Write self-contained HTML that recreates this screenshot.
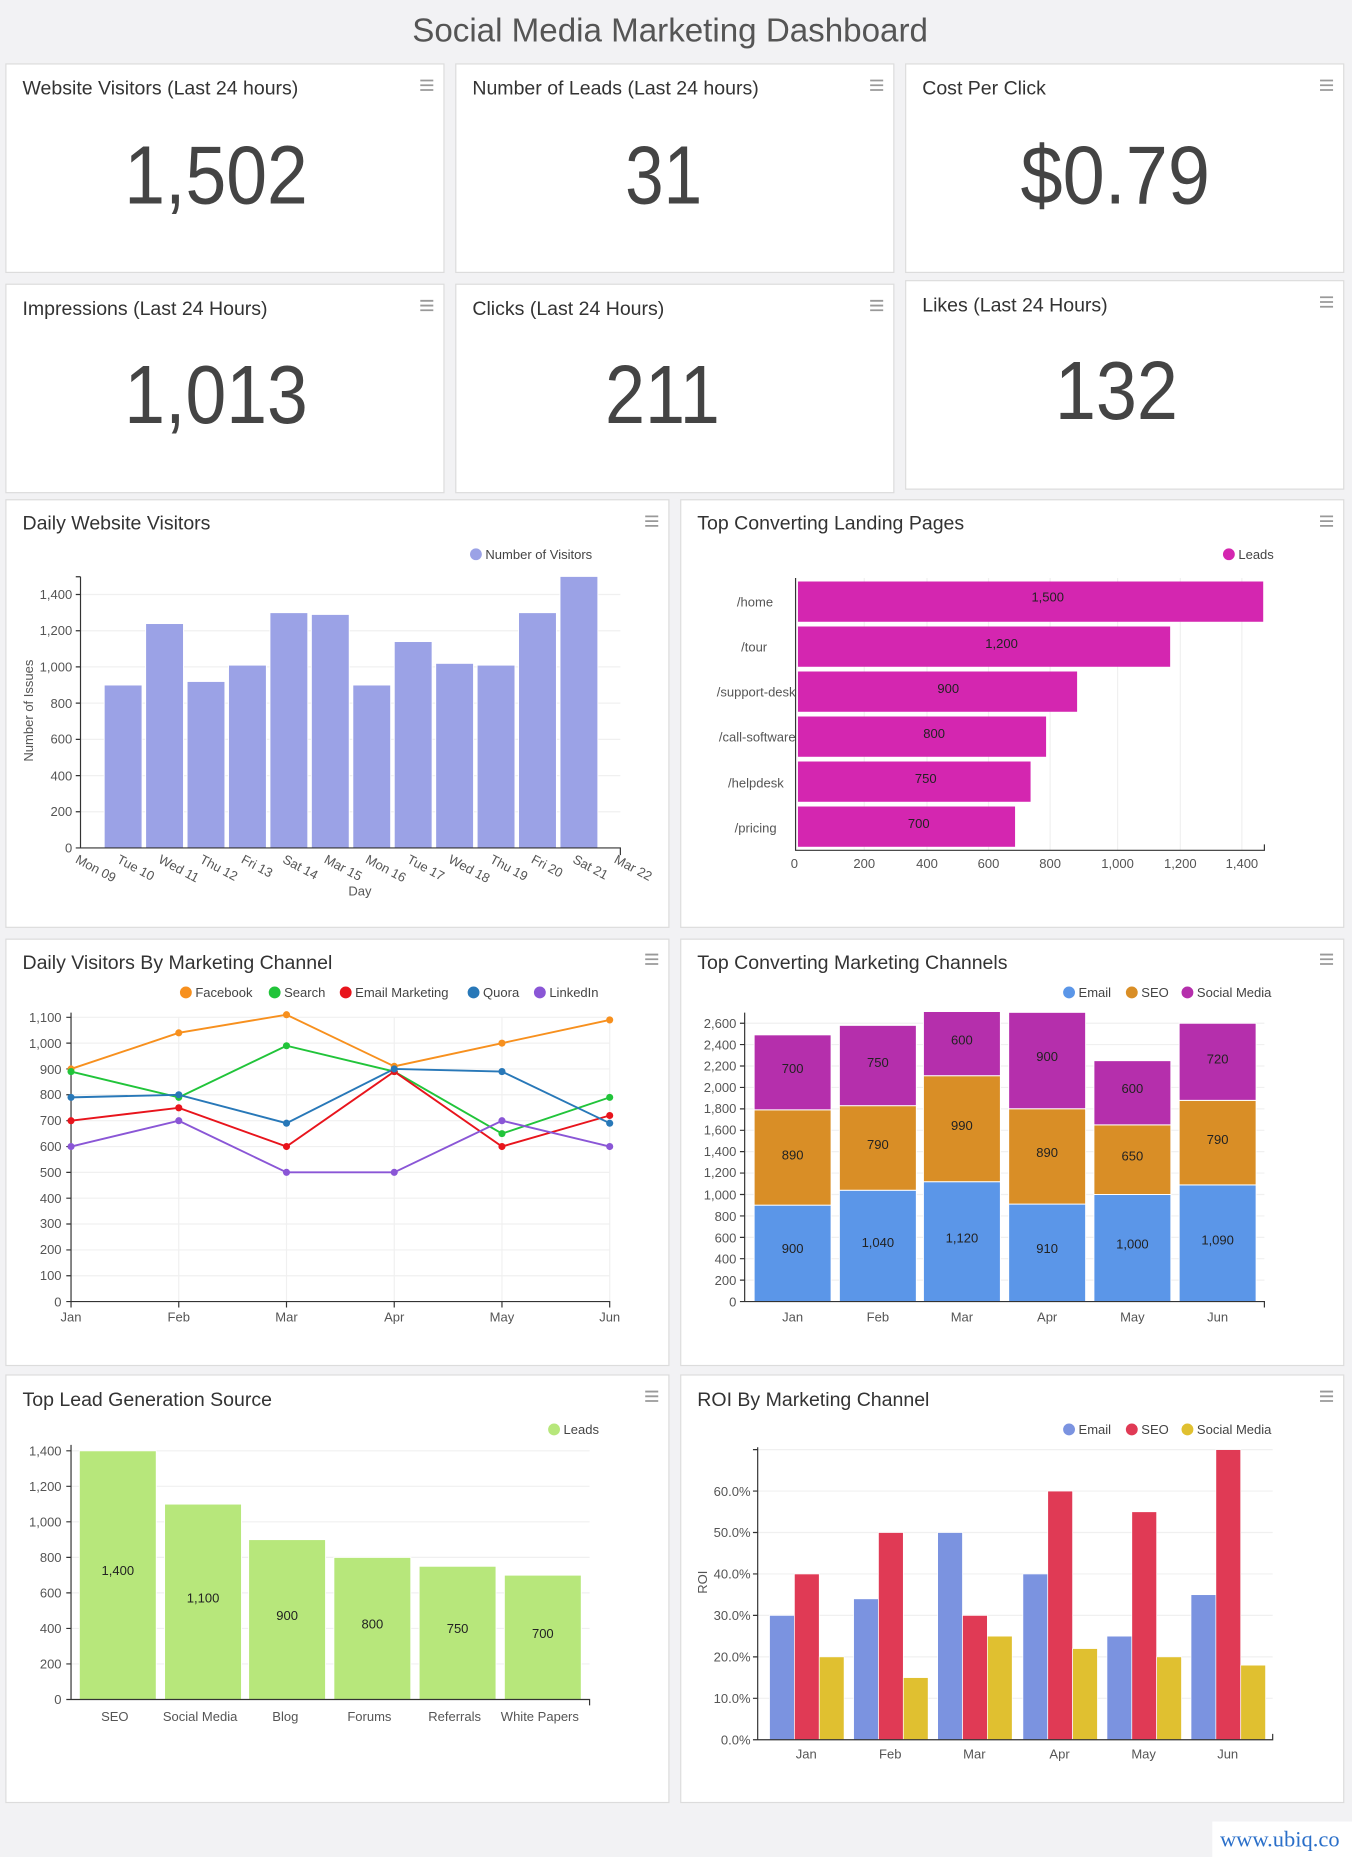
<!DOCTYPE html>
<html><head><meta charset="utf-8"><style>
html,body{margin:0;padding:0;background:#f2f2f4;}
svg{display:block;font-family:"Liberation Sans",sans-serif;}
.ct{font-size:16.5px;fill:#333;}
.big{font-size:70px;fill:#444;}
.t{font-size:11px;fill:#555;}
.lg{font-size:11px;fill:#444;}
.in{font-size:11px;fill:#222;}
.g{stroke:#f0f0f0;stroke-width:1;}
.ax{stroke:#333;stroke-width:1;fill:none;}
</style></head><body>
<svg width="1352" height="1857" viewBox="0 0 1142 1568" preserveAspectRatio="none">
<rect width="1142" height="1568" fill="#f2f2f4"/>
<text x="566" y="35" text-anchor="middle" font-size="28" fill="#555">Social Media Marketing Dashboard</text>
<g fill="#fff" stroke="#dcdcdc">
<rect x="5" y="54" width="370" height="176"/><rect x="385" y="54" width="370" height="176"/><rect x="765" y="54" width="370" height="176"/>
<rect x="5" y="240" width="370" height="176"/><rect x="385" y="240" width="370" height="176"/><rect x="765" y="237" width="370" height="176"/>
<rect x="5" y="422" width="560" height="361"/><rect x="575" y="422" width="560" height="361"/>
<rect x="5" y="793" width="560" height="360"/><rect x="575" y="793" width="560" height="360"/>
<rect x="5" y="1161" width="560" height="361"/><rect x="575" y="1161" width="560" height="361"/>
</g>
<g stroke="#999" stroke-width="1.5">
<path d="M355 68h11M355 72h11M355 76h11M735 68h11M735 72h11M735 76h11M1115 68h11M1115 72h11M1115 76h11"/>
<path d="M355 254h11M355 258h11M355 262h11M735 254h11M735 258h11M735 262h11M1115 251h11M1115 255h11M1115 259h11"/>
<path d="M545 436h11M545 440h11M545 444h11M1115 436h11M1115 440h11M1115 444h11"/>
<path d="M545 806h11M545 810h11M545 814h11M1115 806h11M1115 810h11M1115 814h11"/>
<path d="M545 1175h11M545 1179h11M545 1183h11M1115 1175h11M1115 1179h11M1115 1183h11"/>
</g>
<text class="ct" x="19" y="80">Website Visitors (Last 24 hours)</text>
<text class="ct" x="399" y="80">Number of Leads (Last 24 hours)</text>
<text class="ct" x="779" y="80">Cost Per Click</text>
<text class="ct" x="19" y="266">Impressions (Last 24 Hours)</text>
<text class="ct" x="399" y="266">Clicks (Last 24 Hours)</text>
<text class="ct" x="779" y="263">Likes (Last 24 Hours)</text>
<text class="big" x="105" y="172" textLength="155" lengthAdjust="spacingAndGlyphs">1,502</text>
<text class="big" x="528" y="172" textLength="65" lengthAdjust="spacingAndGlyphs">31</text>
<text class="big" x="862" y="172" textLength="160" lengthAdjust="spacingAndGlyphs">$0.79</text>
<text class="big" x="105" y="357" textLength="155" lengthAdjust="spacingAndGlyphs">1,013</text>
<text class="big" x="511" y="357" textLength="97" lengthAdjust="spacingAndGlyphs">211</text>
<text class="big" x="891" y="354" textLength="104" lengthAdjust="spacingAndGlyphs">132</text>

<text class="ct" x="19" y="447">Daily Website Visitors</text>
<text class="ct" x="589" y="447">Top Converting Landing Pages</text>
<text class="ct" x="19" y="818">Daily Visitors By Marketing Channel</text>
<text class="ct" x="589" y="818">Top Converting Marketing Channels</text>
<text class="ct" x="19" y="1187">Top Lead Generation Source</text>
<text class="ct" x="589" y="1187">ROI By Marketing Channel</text>

<!-- Chart 1 -->
<circle cx="402" cy="468" r="5" fill="#9ba2e6"/><text class="lg" x="410" y="472">Number of Visitors</text>
<g class="g"><path d="M68 685.4H524M68 654.9H524M68 624.3H524M68 593.7H524M68 563.1H524M68 532.6H524M68 502H524"/></g>
<g fill="#9ba2e6" stroke="#fff" stroke-width="0.8">
<rect x="88" y="578.4" width="32" height="137.6"/><rect x="123" y="526.5" width="32" height="189.5"/><rect x="158" y="575.4" width="32" height="140.6"/><rect x="193" y="561.6" width="32" height="154.4"/><rect x="228" y="517.3" width="32" height="198.7"/><rect x="263" y="518.8" width="32" height="197.2"/><rect x="298" y="578.4" width="32" height="137.6"/><rect x="333" y="541.7" width="32" height="174.3"/><rect x="368" y="560.1" width="32" height="155.9"/><rect x="403" y="561.6" width="32" height="154.4"/><rect x="438" y="517.3" width="32" height="198.7"/><rect x="473" y="486.7" width="32" height="229.3"/>
</g>
<path class="ax" d="M68 487V716H524v6M64 716h4M64 502h4M64 532.6h4M64 563.1h4M64 593.7h4M64 624.3h4M64 654.9h4M64 685.4h4M64 487h4"/>
<g class="t" text-anchor="end"><text x="61" y="720">0</text><text x="61" y="689">200</text><text x="61" y="659">400</text><text x="61" y="628">600</text><text x="61" y="598">800</text><text x="61" y="567">1,000</text><text x="61" y="536">1,200</text><text x="61" y="506">1,400</text></g>
<text class="t" transform="translate(28,600) rotate(-90)" text-anchor="middle">Number of Issues</text>
<g class="t">
<text transform="translate(63,728) rotate(28)">Mon 09</text><text transform="translate(98,728) rotate(28)">Tue 10</text><text transform="translate(133,728) rotate(28)">Wed 11</text><text transform="translate(168,728) rotate(28)">Thu 12</text><text transform="translate(203,728) rotate(28)">Fri 13</text><text transform="translate(238,728) rotate(28)">Sat 14</text><text transform="translate(273,728) rotate(28)">Mar 15</text><text transform="translate(308,728) rotate(28)">Mon 16</text><text transform="translate(343,728) rotate(28)">Tue 17</text><text transform="translate(378,728) rotate(28)">Wed 18</text><text transform="translate(413,728) rotate(28)">Thu 19</text><text transform="translate(448,728) rotate(28)">Fri 20</text><text transform="translate(483,728) rotate(28)">Sat 21</text><text transform="translate(518,728) rotate(28)">Mar 22</text>
</g>
<text class="t" x="304" y="756" text-anchor="middle">Day</text>

<!-- Chart 2 -->
<circle cx="1038" cy="468" r="5" fill="#d426b0"/><text class="lg" x="1046" y="472">Leads</text>
<g class="g"><path d="M730 488V718M783 488V718M835 488V718M887 488V718M944 488V718M997 488V718M1049 488V718"/></g>
<g fill="#d426b0">
<rect x="674" y="491" width="393" height="34"/><rect x="674" y="529" width="314.4" height="34"/><rect x="674" y="567" width="235.8" height="34"/><rect x="674" y="605" width="209.6" height="34"/><rect x="674" y="643" width="196.5" height="34"/><rect x="674" y="681" width="183.4" height="34"/>
</g>
<g class="in" text-anchor="middle"><text x="885" y="508">1,500</text><text x="846" y="547">1,200</text><text x="801" y="585">900</text><text x="789" y="623">800</text><text x="782" y="661">750</text><text x="776" y="699">700</text></g>
<path class="ax" d="M672 488V718H1068v-5"/>
<g class="t" text-anchor="end"><text x="653" y="512">/home</text><text x="648" y="550">/tour</text><text x="672" y="588">/support-desk</text><text x="672" y="626">/call-software</text><text x="662" y="665">/helpdesk</text><text x="656" y="703">/pricing</text></g>
<g class="t" text-anchor="middle"><text x="671" y="733">0</text><text x="730" y="733">200</text><text x="783" y="733">400</text><text x="835" y="733">600</text><text x="887" y="733">800</text><text x="944" y="733">1,000</text><text x="997" y="733">1,200</text><text x="1049" y="733">1,400</text></g>

<!-- Chart 3 -->
<g class="lg">
<circle cx="157" cy="838" r="5" fill="#f7901e"/><text x="165" y="842">Facebook</text>
<circle cx="232" cy="838" r="5" fill="#21c43a"/><text x="240" y="842">Search</text>
<circle cx="292" cy="838" r="5" fill="#e8141c"/><text x="300" y="842">Email Marketing</text>
<circle cx="400" cy="838" r="5" fill="#2878b8"/><text x="408" y="842">Quora</text>
<circle cx="456" cy="838" r="5" fill="#8a56d6"/><text x="464" y="842">LinkedIn</text>
</g>
<g class="g"><path d="M60 1077.2H515M60 1055.4H515M60 1033.5H515M60 1011.7H515M60 989.9H515M60 968.1H515M60 946.3H515M60 924.4H515M60 902.6H515M60 880.8H515M60 859H515M151 859V1099M242 859V1099M333 859V1099M424 859V1099M515 859V1099"/></g>
<path class="ax" d="M60 855V1099H515v5M60 1099v5M151 1099v5M242 1099v5M333 1099v5M424 1099v5M56 1099h4M56 1077.2h4M56 1055.4h4M56 1033.5h4M56 1011.7h4M56 989.9h4M56 968.1h4M56 946.3h4M56 924.4h4M56 902.6h4M56 880.8h4M56 859h4"/>
<g class="t" text-anchor="end"><text x="52" y="1103">0</text><text x="52" y="1081">100</text><text x="52" y="1059">200</text><text x="52" y="1037">300</text><text x="52" y="1016">400</text><text x="52" y="994">500</text><text x="52" y="972">600</text><text x="52" y="950">700</text><text x="52" y="928">800</text><text x="52" y="907">900</text><text x="52" y="885">1,000</text><text x="52" y="863">1,100</text></g>
<g class="t" text-anchor="middle"><text x="60" y="1116">Jan</text><text x="151" y="1116">Feb</text><text x="242" y="1116">Mar</text><text x="333" y="1116">Apr</text><text x="424" y="1116">May</text><text x="515" y="1116">Jun</text></g>
<g fill="none" stroke-width="1.6">
<polyline stroke="#f7901e" points="60,902.6 151,872.1 242,856.8 333,900.4 424,880.8 515,861.2"/>
<polyline stroke="#21c43a" points="60,904.8 151,926.6 242,883 333,904.8 424,957.2 515,926.6"/>
<polyline stroke="#e8141c" points="60,946.3 151,935.4 242,968.1 333,904.8 424,968.1 515,941.9"/>
<polyline stroke="#2878b8" points="60,926.6 151,924.4 242,948.4 333,902.6 424,904.8 515,948.4"/>
<polyline stroke="#8a56d6" points="60,968.1 151,946.3 242,989.9 333,989.9 424,946.3 515,968.1"/>
</g>
<g fill="#f7901e"><circle cx="60" cy="902.6" r="3"/><circle cx="151" cy="872.1" r="3"/><circle cx="242" cy="856.8" r="3"/><circle cx="333" cy="900.4" r="3"/><circle cx="424" cy="880.8" r="3"/><circle cx="515" cy="861.2" r="3"/></g>
<g fill="#21c43a"><circle cx="60" cy="904.8" r="3"/><circle cx="151" cy="926.6" r="3"/><circle cx="242" cy="883" r="3"/><circle cx="333" cy="904.8" r="3"/><circle cx="424" cy="957.2" r="3"/><circle cx="515" cy="926.6" r="3"/></g>
<g fill="#e8141c"><circle cx="60" cy="946.3" r="3"/><circle cx="151" cy="935.4" r="3"/><circle cx="242" cy="968.1" r="3"/><circle cx="333" cy="904.8" r="3"/><circle cx="424" cy="968.1" r="3"/><circle cx="515" cy="941.9" r="3"/></g>
<g fill="#2878b8"><circle cx="60" cy="926.6" r="3"/><circle cx="151" cy="924.4" r="3"/><circle cx="242" cy="948.4" r="3"/><circle cx="333" cy="902.6" r="3"/><circle cx="424" cy="904.8" r="3"/><circle cx="515" cy="948.4" r="3"/></g>
<g fill="#8a56d6"><circle cx="60" cy="968.1" r="3"/><circle cx="151" cy="946.3" r="3"/><circle cx="242" cy="989.9" r="3"/><circle cx="333" cy="989.9" r="3"/><circle cx="424" cy="946.3" r="3"/><circle cx="515" cy="968.1" r="3"/></g>

<!-- Chart 4 -->
<g class="lg">
<circle cx="903" cy="838" r="5" fill="#5b96e8"/><text x="911" y="842">Email</text>
<circle cx="956" cy="838" r="5" fill="#d98e26"/><text x="964" y="842">SEO</text>
<circle cx="1003" cy="838" r="5" fill="#b52fac"/><text x="1011" y="842">Social Media</text>
</g>
<g class="g"><path d="M629 1080.9H1068M629 1062.8H1068M629 1044.8H1068M629 1026.7H1068M629 1008.6H1068M629 990.5H1068M629 972.4H1068M629 954.4H1068M629 936.3H1068M629 918.2H1068M629 900.1H1068M629 882H1068M629 864H1068"/></g>
<g stroke="#fff" stroke-width="0.8">
<rect x="637" y="1017.6" width="65" height="81.4" fill="#5b96e8"/><rect x="637" y="937.1" width="65" height="80.5" fill="#d98e26"/><rect x="637" y="873.8" width="65" height="63.3" fill="#b52fac"/>
<rect x="709" y="1005" width="65" height="94" fill="#5b96e8"/><rect x="709" y="933.6" width="65" height="71.4" fill="#d98e26"/><rect x="709" y="865.8" width="65" height="67.8" fill="#b52fac"/>
<rect x="780" y="997.8" width="65" height="101.2" fill="#5b96e8"/><rect x="780" y="908.3" width="65" height="89.5" fill="#d98e26"/><rect x="780" y="854.1" width="65" height="54.2" fill="#b52fac"/>
<rect x="852" y="1016.7" width="65" height="82.3" fill="#5b96e8"/><rect x="852" y="936.2" width="65" height="80.5" fill="#d98e26"/><rect x="852" y="854.8" width="65" height="81.4" fill="#b52fac"/>
<rect x="924" y="1008.6" width="65" height="90.4" fill="#5b96e8"/><rect x="924" y="949.8" width="65" height="58.8" fill="#d98e26"/><rect x="924" y="895.6" width="65" height="54.2" fill="#b52fac"/>
<rect x="996" y="1000.5" width="65" height="98.5" fill="#5b96e8"/><rect x="996" y="929.1" width="65" height="71.4" fill="#d98e26"/><rect x="996" y="864" width="65" height="65.1" fill="#b52fac"/>
</g>
<g class="in" text-anchor="middle">
<text x="669.5" y="1058">900</text><text x="669.5" y="979">890</text><text x="669.5" y="906">700</text>
<text x="741.5" y="1053">1,040</text><text x="741.5" y="970">790</text><text x="741.5" y="901">750</text>
<text x="812.5" y="1049">1,120</text><text x="812.5" y="954">990</text><text x="812.5" y="882">600</text>
<text x="884.5" y="1058">910</text><text x="884.5" y="977">890</text><text x="884.5" y="896">900</text>
<text x="956.5" y="1054">1,000</text><text x="956.5" y="980">650</text><text x="956.5" y="923">600</text>
<text x="1028.5" y="1051">1,090</text><text x="1028.5" y="966">790</text><text x="1028.5" y="898">720</text>
</g>
<path class="ax" d="M629 855V1099H1068v5M625 1099h4M625 1080.9h4M625 1062.8h4M625 1044.8h4M625 1026.7h4M625 1008.6h4M625 990.5h4M625 972.4h4M625 954.4h4M625 936.3h4M625 918.2h4M625 900.1h4M625 882h4M625 864h4"/>
<g class="t" text-anchor="end"><text x="622" y="1103">0</text><text x="622" y="1085">200</text><text x="622" y="1067">400</text><text x="622" y="1049">600</text><text x="622" y="1031">800</text><text x="622" y="1013">1,000</text><text x="622" y="994">1,200</text><text x="622" y="976">1,400</text><text x="622" y="958">1,600</text><text x="622" y="940">1,800</text><text x="622" y="922">2,000</text><text x="622" y="904">2,200</text><text x="622" y="886">2,400</text><text x="622" y="868">2,600</text></g>
<g class="t" text-anchor="middle"><text x="669.5" y="1116">Jan</text><text x="741.5" y="1116">Feb</text><text x="812.5" y="1116">Mar</text><text x="884.5" y="1116">Apr</text><text x="956.5" y="1116">May</text><text x="1028.5" y="1116">Jun</text></g>

<!-- Chart 5 -->
<circle cx="468" cy="1207" r="5" fill="#b7e77b"/><text class="lg" x="476" y="1211">Leads</text>
<g class="g"><path d="M60 1405H498M60 1375H498M60 1345H498M60 1315H498M60 1285H498M60 1255H498M60 1225H498"/></g>
<g fill="#b7e77b" stroke="#fff" stroke-width="0.8">
<rect x="67" y="1225" width="65" height="210"/><rect x="139" y="1270" width="65" height="165"/><rect x="210" y="1300" width="65" height="135"/><rect x="282" y="1315" width="65" height="120"/><rect x="354" y="1322.5" width="65" height="112.5"/><rect x="426" y="1330" width="65" height="105"/>
</g>
<g class="in" text-anchor="middle"><text x="99.5" y="1330">1,400</text><text x="171.5" y="1353">1,100</text><text x="242.5" y="1368">900</text><text x="314.5" y="1375">800</text><text x="386.5" y="1379">750</text><text x="458.5" y="1383">700</text></g>
<path class="ax" d="M60 1220V1435H498v5M56 1435h4M56 1405h4M56 1375h4M56 1345h4M56 1315h4M56 1285h4M56 1255h4M56 1225h4"/>
<g class="t" text-anchor="end"><text x="52" y="1439">0</text><text x="52" y="1409">200</text><text x="52" y="1379">400</text><text x="52" y="1349">600</text><text x="52" y="1319">800</text><text x="52" y="1289">1,000</text><text x="52" y="1259">1,200</text><text x="52" y="1229">1,400</text></g>
<g class="t" text-anchor="middle"><text x="97" y="1453">SEO</text><text x="169" y="1453">Social Media</text><text x="241" y="1453">Blog</text><text x="312" y="1453">Forums</text><text x="384" y="1453">Referrals</text><text x="456" y="1453">White Papers</text></g>

<!-- Chart 6 -->
<g class="lg">
<circle cx="903" cy="1207" r="5" fill="#7b93e0"/><text x="911" y="1211">Email</text>
<circle cx="956" cy="1207" r="5" fill="#e03a55"/><text x="964" y="1211">SEO</text>
<circle cx="1003" cy="1207" r="5" fill="#e0c030"/><text x="1011" y="1211">Social Media</text>
</g>
<g class="g"><path d="M640 1434H1075M640 1399H1075M640 1364H1075M640 1329H1075M640 1294H1075M640 1259H1075M640 1224H1075"/></g>
<g stroke="#fff" stroke-width="0.6">
<rect x="650" y="1364" width="21" height="105" fill="#7b93e0"/><rect x="671" y="1329" width="21" height="140" fill="#e03a55"/><rect x="692" y="1399" width="21" height="70" fill="#e0c030"/>
<rect x="721" y="1350" width="21" height="119" fill="#7b93e0"/><rect x="742" y="1294" width="21" height="175" fill="#e03a55"/><rect x="763" y="1416.5" width="21" height="52.5" fill="#e0c030"/>
<rect x="792" y="1294" width="21" height="175" fill="#7b93e0"/><rect x="813" y="1364" width="21" height="105" fill="#e03a55"/><rect x="834" y="1381.5" width="21" height="87.5" fill="#e0c030"/>
<rect x="864" y="1329" width="21" height="140" fill="#7b93e0"/><rect x="885" y="1259" width="21" height="210" fill="#e03a55"/><rect x="906" y="1392" width="21" height="77" fill="#e0c030"/>
<rect x="935" y="1381.5" width="21" height="87.5" fill="#7b93e0"/><rect x="956" y="1276.5" width="21" height="192.5" fill="#e03a55"/><rect x="977" y="1399" width="21" height="70" fill="#e0c030"/>
<rect x="1006" y="1346.5" width="21" height="122.5" fill="#7b93e0"/><rect x="1027" y="1224" width="21" height="245" fill="#e03a55"/><rect x="1048" y="1406" width="21" height="63" fill="#e0c030"/>
</g>
<path class="ax" d="M640 1222V1469H1075v-5M636 1469h4M636 1434h4M636 1399h4M636 1364h4M636 1329h4M636 1294h4M636 1259h4M636 1224h4"/>
<g class="t" text-anchor="end"><text x="634" y="1473">0.0%</text><text x="634" y="1438">10.0%</text><text x="634" y="1403">20.0%</text><text x="634" y="1368">30.0%</text><text x="634" y="1333">40.0%</text><text x="634" y="1298">50.0%</text><text x="634" y="1263">60.0%</text></g>
<text class="t" transform="translate(597,1336) rotate(-90)" text-anchor="middle">ROI</text>
<g class="t" text-anchor="middle"><text x="681" y="1485">Jan</text><text x="752" y="1485">Feb</text><text x="823" y="1485">Mar</text><text x="895" y="1485">Apr</text><text x="966" y="1485">May</text><text x="1037" y="1485">Jun</text></g>

<rect x="1024" y="1538" width="118" height="30" fill="#fff"/>
<text x="1081" y="1559" text-anchor="middle" font-family="Liberation Serif,serif" font-size="19" fill="#2a6fc9">www.ubiq.co</text>
</svg>
</body></html>
